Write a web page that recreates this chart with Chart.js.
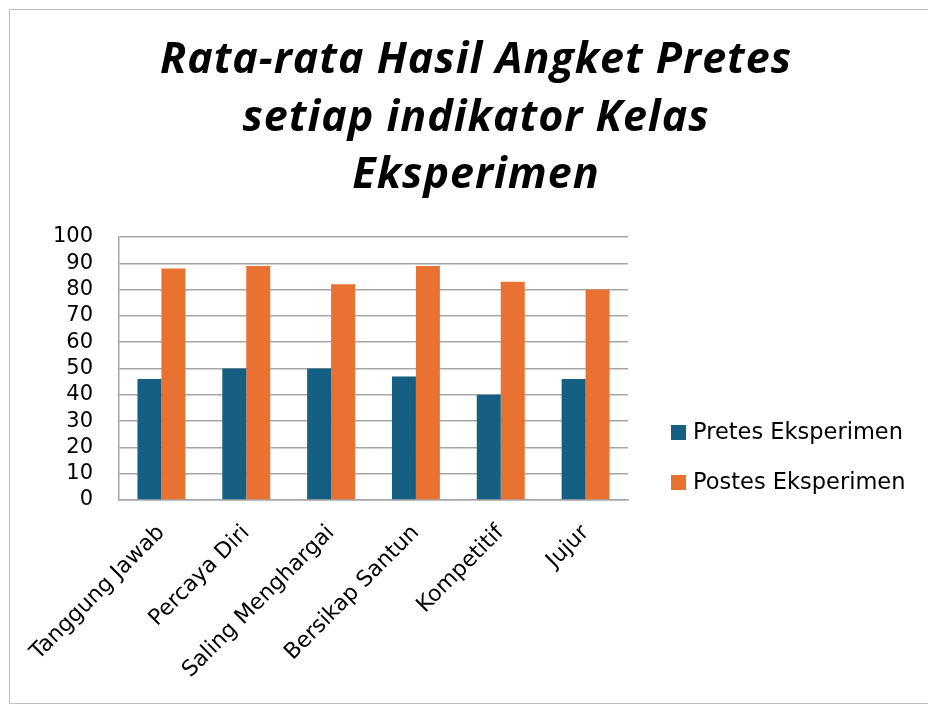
<!DOCTYPE html>
<html>
<head>
<meta charset="utf-8">
<script src="https://cdn.jsdelivr.net/npm/chart.js@4.4.0/dist/chart.umd.min.js"></script>
<style>
    html, body { margin: 0; padding: 0; background: #ffffff; }
    #wrap { position: relative; width: 928px; height: 706px; }
</style>
</head>
<body>
<div id="wrap"><canvas id="chart" width="928" height="706"></canvas></div>
<script>
// Chart data
const categories = ['Tanggung Jawab', 'Percaya Diri', 'Saling Menghargai', 'Bersikap Santun', 'Kompetitif', 'Jujur'];
const pretesValues = [46, 50, 50, 47, 40, 46];
const postesValues = [88, 89, 82, 89, 83, 80];
const seriesNames = ['Pretes Eksperimen', 'Postes Eksperimen'];
const titleLines = ['Rata-rata Hasil Angket Pretes', 'setiap indikator Kelas', 'Eksperimen'];

const blue = '#156082';
const orange = '#E97132';
const tickFont = '"DejaVu Sans", "Liberation Sans", sans-serif';

// Draws the frame, the title and the legend by hand
const decorPlugin = {
    id: 'decor',
    beforeDraw(chart) {
        const ctx = chart.ctx;
        ctx.save();
        ctx.strokeStyle = '#bfbfbf';
        ctx.lineWidth = 1;
        ctx.strokeRect(9.5, 9.5, 940, 694);
        ctx.restore();
    },
    afterDraw(chart) {
        const ctx = chart.ctx;
        ctx.save();
        // title
        ctx.fillStyle = '#000000';
        ctx.textAlign = 'center';
        ctx.textBaseline = 'alphabetic';
        ctx.font = 'italic bold 43px "Open Sans", "Liberation Sans", sans-serif';
        ctx.letterSpacing = '1px';
        titleLines.forEach((line, i) => {
            ctx.fillText(line, 476, 73 + i * 57.5);
        });
        ctx.letterSpacing = '0px';
        // legend
        ctx.textAlign = 'left';
        ctx.textBaseline = 'middle';
        ctx.font = '22.5px ' + tickFont;
        chart.data.datasets.forEach((ds, i) => {
            const y = 432 + i * 50;
            ctx.fillStyle = ds.backgroundColor;
            ctx.fillRect(671, y - 7, 15, 15);
            ctx.fillStyle = '#000000';
            ctx.fillText(ds.label, 693, y + 1);
        });
        ctx.restore();
    }
};

function initChart() {
    const ctx = document.getElementById('chart').getContext('2d');
    new Chart(ctx, {
        type: 'bar',
        data: {
            labels: categories,
            datasets: [{
                label: seriesNames[0],
                data: pretesValues,
                backgroundColor: blue,
                categoryPercentage: 0.565,
                barPercentage: 1.0
            }, {
                label: seriesNames[1],
                data: postesValues,
                backgroundColor: orange,
                categoryPercentage: 0.565,
                barPercentage: 1.0
            }]
        },
        options: {
            responsive: false,
            animation: false,
            layout: {
                padding: { top: 237, right: 300, bottom: 0, left: 0 }
            },
            scales: {
                x: {
                    afterFit: function(scale) { scale.height = 206; },
                    grid: { display: false, drawTicks: false },
                    border: { display: true, color: '#a6a6a6', width: 1.5 },
                    ticks: {
                        color: '#000000',
                        font: { family: tickFont, size: 22 },
                        minRotation: 45,
                        maxRotation: 45,
                        autoSkip: false,
                        padding: 20
                    }
                },
                y: {
                    min: 0,
                    max: 100,
                    afterFit: function(scale) { scale.width = 119; },
                    grid: { color: '#a6a6a6', lineWidth: 1.5, drawTicks: false },
                    border: { display: true, color: '#a6a6a6', width: 1.5 },
                    ticks: {
                        stepSize: 10,
                        autoSkip: false,
                        color: '#000000',
                        font: { family: tickFont, size: 21 },
                        padding: 26
                    }
                }
            },
            plugins: {
                legend: { display: false },
                title: { display: false },
                tooltip: { enabled: false }
            }
        },
        plugins: [decorPlugin]
    });
}

document.addEventListener('DOMContentLoaded', initChart);
</script>
</body>
</html>
